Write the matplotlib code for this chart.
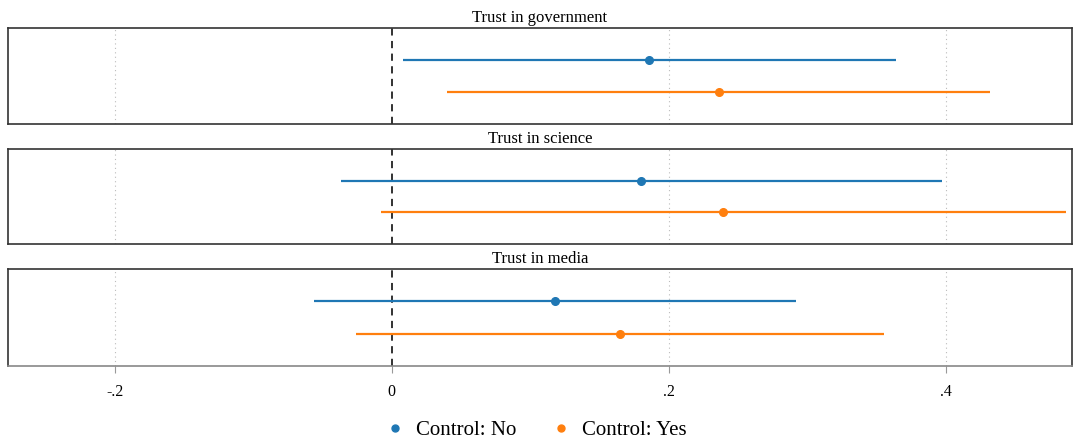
import matplotlib
matplotlib.use("Agg")
import matplotlib.pyplot as plt
from matplotlib.lines import Line2D

plt.rcParams['font.family'] = ['Liberation Serif', 'DejaVu Serif']

panels = ["Trust in government", "Trust in science", "Trust in media"]
series = ["Control: No", "Control: Yes"]
colors = ["#1f77b4", "#ff7f0e"]

est_no = [0.186, 0.180, 0.118]
lo_no = [0.008, -0.037, -0.056]
hi_no = [0.364, 0.397, 0.292]

est_yes = [0.236, 0.239, 0.165]
lo_yes = [0.040, -0.008, -0.026]
hi_yes = [0.432, 0.487, 0.355]

xticks = [-0.2, 0, 0.2, 0.4]
xticklabels = ["-.2", "0", ".2", ".4"]

fig = plt.figure(figsize=(10.73, 4.41), dpi=100)
boxes = [(28, 124), (149, 244), (269, 366)]
W, H = 1073, 441
axes = []
for i, (t, b) in enumerate(boxes):
    ax = fig.add_axes([8 / W, 1 - b / H, (1072 - 8) / W, (b - t) / H])
    axes.append(ax)
    data = [(est_no, lo_no, hi_no), (est_yes, lo_yes, hi_yes)]
    for j, (e, lo, hi) in enumerate(data):
        y = j + 1
        ax.plot([lo[i], hi[i]], [y, y], color=colors[j], lw=1.6, solid_capstyle='butt', zorder=3)
        ax.plot([e[i]], [y], 'o', color=colors[j], ms=5.5, zorder=4)
    for xt in xticks:
        if xt == 0:
            ax.axvline(0, color='#222222', lw=1.3, ls=(0, (4, 3)), zorder=2)
        else:
            ax.axvline(xt, color='#bbbbbb', lw=0.8, ls=(0, (1, 3)), zorder=1)
    ax.set_xlim(-0.277, 0.491)
    ax.set_ylim(3.0, 0.0)
    ax.set_yticks([])
    for s in ax.spines.values():
        s.set_color('#333333')
        s.set_linewidth(1.2)
    ax.set_title(panels[i], fontsize=12, pad=4)
    if i < 2:
        ax.set_xticks([])
    else:
        ax.set_xticks(xticks)
        ax.set_xticklabels(xticklabels, fontsize=11.5)
        ax.tick_params(axis='x', length=5, color='#999999', pad=8)
        ax.spines['bottom'].set_color('#888888')

handles = [Line2D([], [], marker='o', ls='none', color=c, ms=5) for c in colors]
fig.legend(handles, series, loc='center', bbox_to_anchor=(0.5 - 6 / W, 1 - 430 / H), ncol=2,
           frameon=False, fontsize=15, handletextpad=0.0, columnspacing=1.15)

fig.savefig("out.png", dpi=100)
